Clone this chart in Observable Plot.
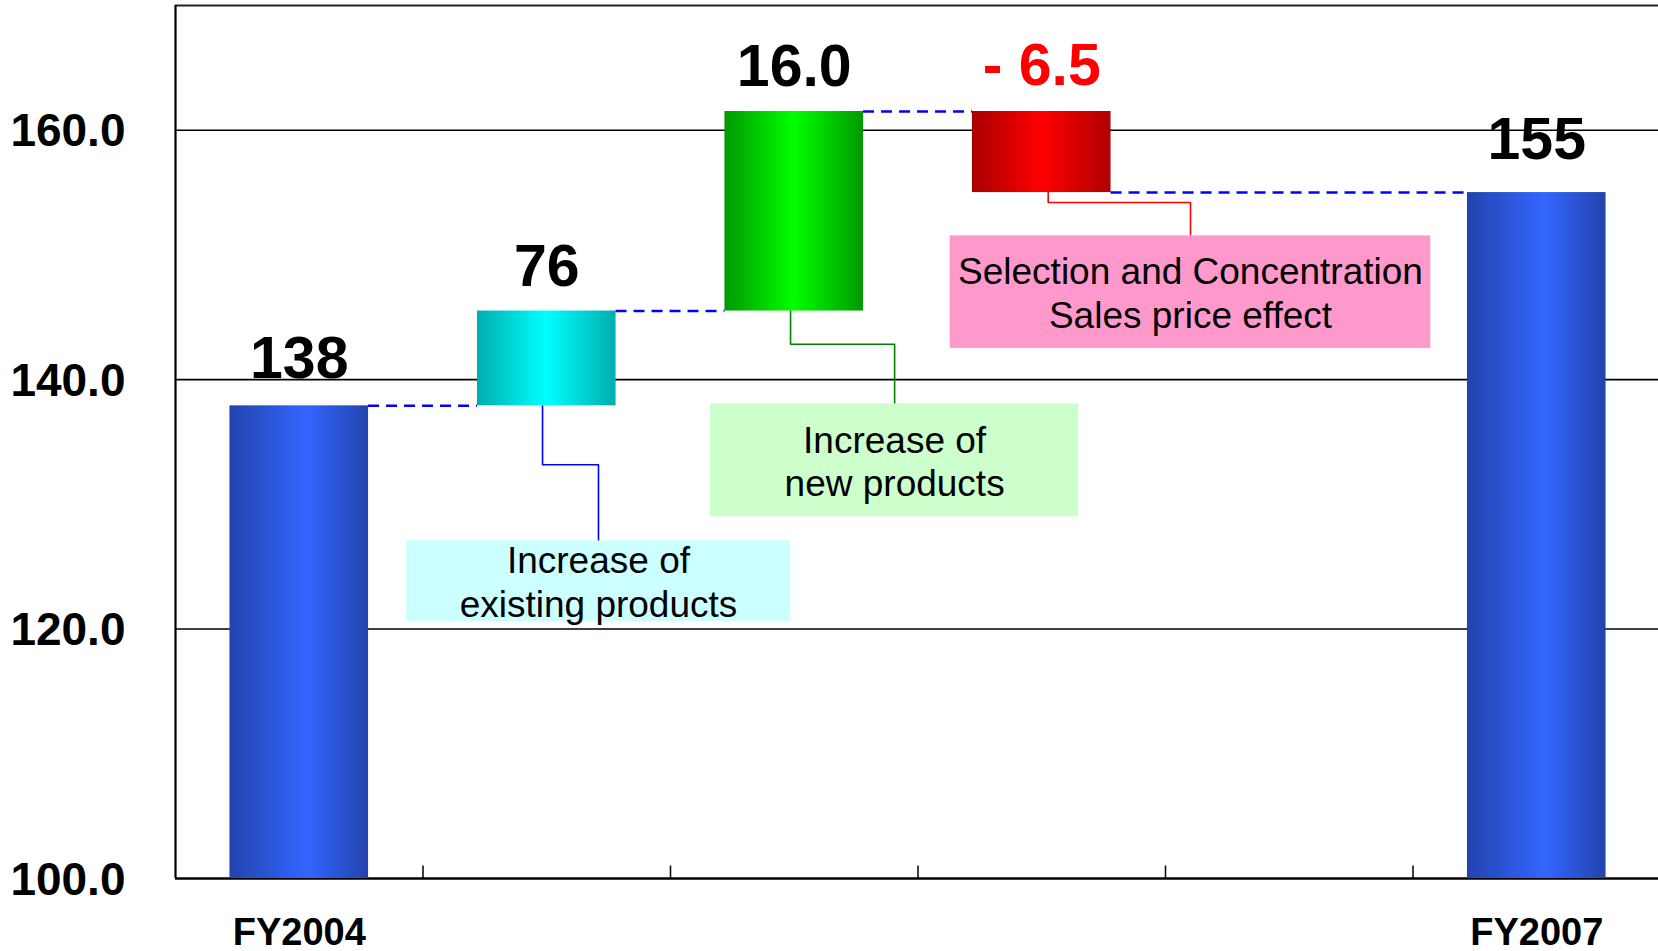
<!DOCTYPE html>
<html><head><meta charset="utf-8">
<script src="https://cdn.jsdelivr.net/npm/d3@7"></script>
<script src="https://cdn.jsdelivr.net/npm/@observablehq/plot@0.6"></script>
<style>html,body{margin:0;padding:0;background:#fff;} svg{display:block}</style>
</head><body><div id="chart"></div>
<script>
// ---- data ----
const categories = ["FY2004", "Increase of existing products", "Increase of new products", "Selection and Concentration / Sales price effect", "", "FY2007"];
const startValue = 137.9;
const changes = [7.6, 16.0, -6.5];
const endValue = 155.0;
const valueLabels = ["138", "76", "16.0", "- 6.5", "155"];
const valueLabelColors = ["#000", "#000", "#000", "#ff0000", "#000"];
const barGradients = ["gradBlue", "gradCyan", "gradGreen", "gradRed", "gradBlue"];
const xLabels = ["FY2004", "FY2007"];
const yTicks = [100, 120, 140, 160];
const calloutText = [["Increase of", "existing products"], ["Increase of", "new products"], ["Selection and Concentration", "Sales price effect"]];
const calloutFill = ["#ccffff", "#ccffcc", "#ff99cc"];
const leaderColor = ["#0000ff", "#008000", "#ff0000"];
// annotation placement (data units) and label offsets (px)
const calloutBoxX = [[0.933, 2.485], [2.162, 3.649], [3.130, 5.072]];
const calloutBoxY = [[120.6, 127.07], [129.0, 138.06], [142.5, 151.53]];
const leaderStartX = [1.483, 2.485, 3.526];
const leaderBendY = [133.17, 142.84, 154.2];
const labelOffsets = [-28, -25, -26, -27, -34];

// ---- derived tables ----
const barHalf = 0.28;
const bars = [];
bars.push({cat: categories[0], y1: 100, y2: startValue});
let level = startValue;
changes.forEach((d, i) => { bars.push({cat: categories[i + 1], y1: level, y2: +(level + d).toFixed(2)}); level += d; });
bars.push({cat: categories[5], y1: 100, y2: endValue});
bars.forEach((b, i) => {
  const c = categories.indexOf(b.cat) + 0.5;
  b.x1 = c - barHalf; b.x2 = c + barHalf; b.xc = c;
  b.fill = `url(#${barGradients[i]})`;
  b.label = valueLabels[i]; b.labelColor = valueLabelColors[i];
  b.top = Math.max(b.y1, b.y2);
  b.dy = labelOffsets[i];
});
const connectors = bars.slice(0, -1).map((b, i) => ({x1: b.x2, x2: bars[i + 1].x1, y: b.y2}));
const callouts = calloutText.map((t, i) => ({
  x1: calloutBoxX[i][0], x2: calloutBoxX[i][1], y1: calloutBoxY[i][0], y2: calloutBoxY[i][1],
  text: t.join("\n"), fill: calloutFill[i]
}));
const leaderPts = [];
callouts.forEach((c, i) => {
  const bar = bars[i + 1];
  const xc = (c.x1 + c.x2) / 2;
  const yb = Math.min(bar.y1, bar.y2);
  [[leaderStartX[i], yb], [leaderStartX[i], leaderBendY[i]], [xc, leaderBendY[i]], [xc, c.y2]]
    .forEach(([x, y]) => leaderPts.push({id: i, x, y, color: leaderColor[i]}));
});
const xLabelData = xLabels.map(l => ({x: categories.indexOf(l) + 0.5, text: l}));

const font = "'Liberation Sans', Arial, Helvetica, sans-serif";
const svg = Plot.plot({
  width: 1658, height: 951,
  marginLeft: 175, marginRight: -2, marginTop: 5, marginBottom: 73,
  x: {domain: [0, 6], axis: null},
  y: {domain: [100, 170], axis: null},
  color: {type: "identity"},
  style: {fontFamily: font, background: "#fff"},
  marks: [
    Plot.ruleY([120, 140, 160], {stroke: "#000", strokeWidth: 1.6}),
    Plot.ruleY([170], {stroke: "#222", strokeWidth: 2}),
    Plot.ruleX([1, 2, 3, 4, 5], {y1: 100, y2: 101, stroke: "#000", strokeWidth: 1.5}),
    Plot.ruleX([0], {stroke: "#000", strokeWidth: 2.2}),
    Plot.ruleY([100], {stroke: "#000", strokeWidth: 2.5}),
    Plot.line(leaderPts, {x: "x", y: "y", z: "id", stroke: "color", strokeWidth: 1.6}),
    Plot.rect(bars, {x1: "x1", x2: "x2", y1: "y1", y2: "y2", fill: "fill"}),
    Plot.ruleY(connectors, {y: "y", x1: "x1", x2: "x2", stroke: "#0000ff", strokeWidth: 2.5, strokeDasharray: "11,7"}),
    Plot.rect(callouts, {x1: "x1", x2: "x2", y1: "y1", y2: "y2", fill: "fill"}),
    Plot.text(callouts, {x: d => (d.x1 + d.x2) / 2, y: d => (d.y1 + d.y2) / 2, text: "text", fontSize: 37, lineHeight: 1.17, lineAnchor: "middle", fill: "#000"}),
    ...bars.map(b => Plot.text([b], {x: "xc", y: "top", text: "label", fill: "labelColor", fontSize: 59, fontWeight: "bold", lineAnchor: "bottom", dy: b.dy})),
    Plot.axisY(yTicks, {tickFormat: d => d.toFixed(1), tickSize: 0, tickPadding: 50, fontSize: 46, fontWeight: "bold", fill: "#000", label: null, dy: 1.5}),
    Plot.text(xLabelData, {x: "x", frameAnchor: "bottom", text: "text", fontSize: 38, fontWeight: "bold", lineAnchor: "bottom", dy: 66, fill: "#000"})
  ]
});

const grads = [
  {id: "gradBlue", stops: [[0, "#2343ad"], [0.56, "#3366ff"], [1, "#2343ad"]]},
  {id: "gradCyan", stops: [[0, "#00adad"], [0.5, "#00ffff"], [1, "#00adad"]]},
  {id: "gradGreen", stops: [[0, "#009900"], [0.5, "#00ff00"], [1, "#009900"]]},
  {id: "gradRed", stops: [[0, "#a80000"], [0.5, "#ff0000"], [1, "#b00000"]]}
];
const defs = d3.select(svg).insert("defs", ":first-child");
grads.forEach(g => {
  const lg = defs.append("linearGradient").attr("id", g.id).attr("x1", 0).attr("x2", 1).attr("y1", 0).attr("y2", 0);
  g.stops.forEach(([o, c]) => lg.append("stop").attr("offset", o).attr("stop-color", c));
});
document.getElementById("chart").appendChild(svg);
</script>
</body></html>
